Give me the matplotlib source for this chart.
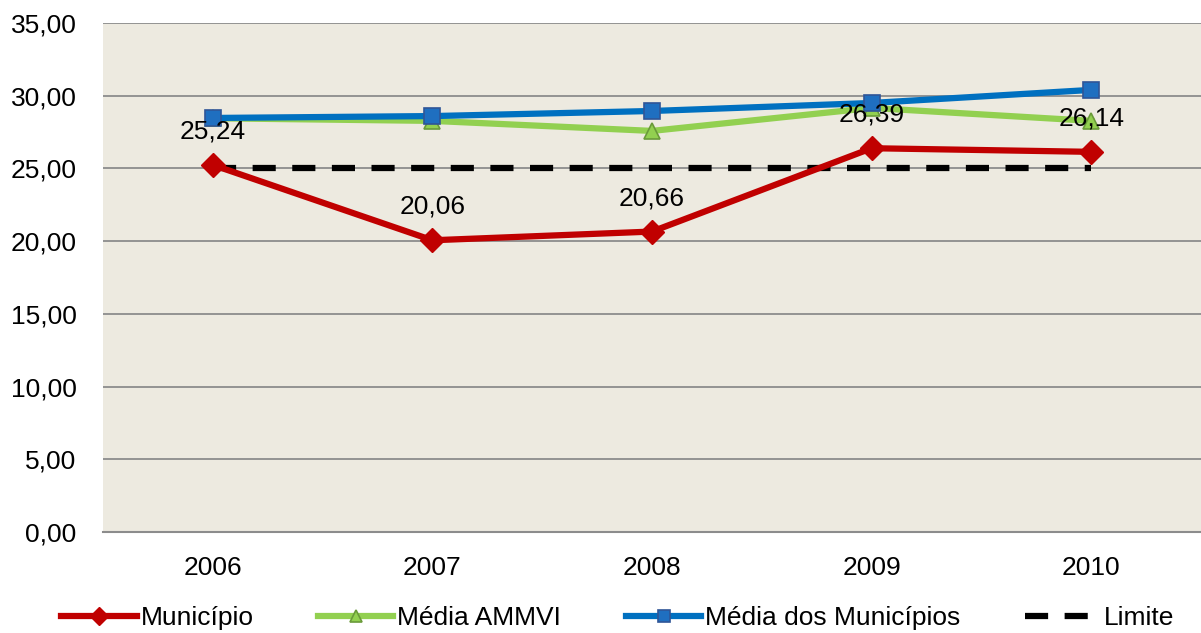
import matplotlib
matplotlib.use("Agg")
import matplotlib.pyplot as plt
from matplotlib.ticker import FuncFormatter

years = ["2006", "2007", "2008", "2009", "2010"]
municipio = [25.24, 20.06, 20.66, 26.39, 26.14]
media_ammvi = [28.45, 28.27, 27.58, 29.16, 28.27]
media_municipios = [28.47, 28.60, 28.95, 29.50, 30.40]
limite = [25.0, 25.0, 25.0, 25.0, 25.0]
yticks = [0, 5, 10, 15, 20, 25, 30, 35]

plt.rcParams['font.family'] = ['Liberation Sans', 'DejaVu Sans']
FS = 19

fig = plt.figure(figsize=(12.01, 6.33), dpi=100)
ax = fig.add_axes([103/1201, 1-532/633, 1-103/1201, (532-23)/633])
ax.set_facecolor('#EDEAE0')

x = list(range(len(years)))
ax.plot(x, media_ammvi, color='#92D050', lw=4.5, marker='^', ms=11,
        mfc='#92D050', mec='#6A9A3A', mew=1.2, label='Média AMMVI', zorder=3)
ax.plot(x, media_municipios, color='#0070C0', lw=4.5, marker='s', ms=11,
        mfc='#1F6FC0', mec='#2F5597', mew=1.2, label='Média dos Municípios', zorder=4)
ax.plot(x, limite, color='black', lw=4.5, ls=(0, (3.7, 2.64)), label='Limite', zorder=3)
ax.plot(x, municipio, color='#C00000', lw=4.5, marker='D', ms=12,
        mfc='#C00000', mec='#C00000', label='Município', zorder=5)

for xi, v in zip(x, municipio):
    ax.annotate(f"{v:.2f}".replace('.', ','), (xi, v), xytext=(0, 24),
                textcoords='offset points', ha='center', va='center',
                fontsize=FS, color='black', zorder=6)

ax.set_xlim(-0.5, 4.5)
ax.set_ylim(0, 35)
ax.set_yticks(yticks)
ax.yaxis.set_major_formatter(FuncFormatter(lambda v, p: f"{v:.2f}".replace('.', ',')))
ax.set_xticks(x)
ax.set_xticklabels(years)
ax.grid(axis='y', color='#8C8C8C', lw=1.3, zorder=1)
ax.set_axisbelow(True)
for s in ['top', 'right', 'left']:
    ax.spines[s].set_visible(False)
ax.spines['bottom'].set_color('#8C8C8C')
ax.spines['bottom'].set_linewidth(1.5)
ax.tick_params(axis='both', length=0, labelsize=FS)
ax.tick_params(axis='y', pad=19)
ax.tick_params(axis='x', pad=17)

handles, labels = ax.get_legend_handles_labels()
order = [labels.index(l) for l in ['Município', 'Média AMMVI', 'Média dos Municípios', 'Limite']]
fig.legend([handles[i] for i in order], [labels[i] for i in order],
           loc='center', bbox_to_anchor=(0.5146, 0.024), ncol=4, frameon=False,
           fontsize=FS, handlelength=2.85, handletextpad=0.15, columnspacing=2.45,
           markerscale=0.8, borderpad=0, borderaxespad=0)

fig.savefig('out.png', dpi=100, facecolor='white')
